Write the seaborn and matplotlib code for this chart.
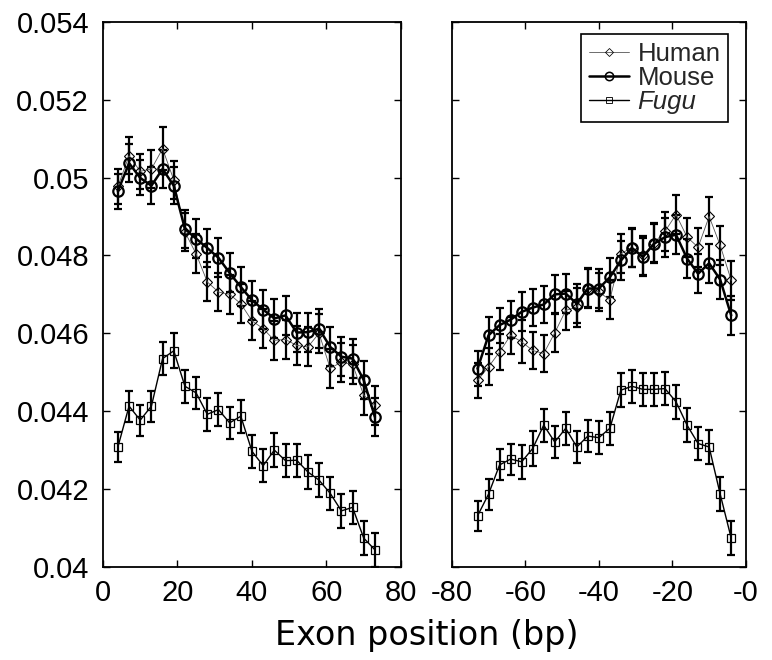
import numpy as np
import pandas as pd
import seaborn as sns
import matplotlib
matplotlib.use("Agg")
import matplotlib.pyplot as plt
from matplotlib.lines import Line2D

# Positions (bp) measured from the exon start and from the exon end
start_pos = [4, 7, 10, 13, 16, 19, 22, 25, 28, 31, 34, 37, 40, 43, 46, 49, 52, 55, 58, 61, 64, 67, 70, 73]
end_pos = [-73, -70, -67, -64, -61, -58, -55, -52, -49, -46, -43, -40, -37, -34, -31, -28, -25, -22, -19, -16, -13, -10, -7, -4]

# Frequencies near the exon start
human_start = [0.04977, 0.05056, 0.05016, 0.05022, 0.05074, 0.04994, 0.04860, 0.04804,
               0.04732, 0.04706, 0.04700, 0.04676, 0.04632, 0.04612, 0.04582, 0.04584,
               0.04569, 0.04565, 0.04600, 0.04510, 0.04526, 0.04520, 0.04441, 0.04415]
mouse_start = [0.04965, 0.05037, 0.04999, 0.04979, 0.05022, 0.04979, 0.04868, 0.04843,
               0.04819, 0.04794, 0.04755, 0.04719, 0.04685, 0.04661, 0.04638, 0.04646,
               0.04602, 0.04603, 0.04612, 0.04565, 0.04540, 0.04535, 0.04480, 0.04385]
fugu_start = [0.04308, 0.04413, 0.04377, 0.04413, 0.04535, 0.04555, 0.04464, 0.04447,
              0.04392, 0.04404, 0.04370, 0.04387, 0.04297, 0.04260, 0.04300, 0.04273,
              0.04274, 0.04244, 0.04223, 0.04189, 0.04144, 0.04153, 0.04074, 0.04044]

# Frequencies near the exon end
human_end = [0.04479, 0.04514, 0.04552, 0.04595, 0.04578, 0.04556, 0.04548, 0.04601,
             0.04659, 0.04667, 0.04717, 0.04706, 0.04686, 0.04804, 0.04821, 0.04800,
             0.04832, 0.04862, 0.04905, 0.04847, 0.04821, 0.04900, 0.04826, 0.04736]
mouse_end = [0.04509, 0.04595, 0.04621, 0.04635, 0.04655, 0.04666, 0.04674, 0.04700,
             0.04702, 0.04676, 0.04715, 0.04715, 0.04744, 0.04787, 0.04819, 0.04796,
             0.04830, 0.04847, 0.04853, 0.04792, 0.04753, 0.04780, 0.04738, 0.04646]
fugu_end = [0.04131, 0.04187, 0.04262, 0.04277, 0.04270, 0.04304, 0.04364, 0.04321,
            0.04356, 0.04308, 0.04336, 0.04332, 0.04356, 0.04454, 0.04464, 0.04456,
            0.04456, 0.04458, 0.04424, 0.04364, 0.04317, 0.04308, 0.04187, 0.04074]

# Standard errors
human_err = [0.00045, 0.00048, 0.00045, 0.00048, 0.00055, 0.00048, 0.00048, 0.00050,
             0.00050, 0.00050, 0.00050, 0.00050, 0.00050, 0.00050, 0.00050, 0.00050,
             0.00050, 0.00050, 0.00050, 0.00050, 0.00050, 0.00050, 0.00050, 0.00050]
mouse_err = [0.00045, 0.00048, 0.00045, 0.00048, 0.00050, 0.00048, 0.00048, 0.00050,
             0.00050, 0.00050, 0.00050, 0.00050, 0.00050, 0.00050, 0.00050, 0.00050,
             0.00050, 0.00050, 0.00050, 0.00050, 0.00050, 0.00050, 0.00050, 0.00050]
fugu_err = [0.00038, 0.00040, 0.00040, 0.00040, 0.00043, 0.00045, 0.00042, 0.00042,
            0.00042, 0.00042, 0.00042, 0.00042, 0.00042, 0.00043, 0.00043, 0.00043,
            0.00043, 0.00043, 0.00043, 0.00043, 0.00043, 0.00043, 0.00043, 0.00043]

species = ["Human", "Mouse", "Fugu"]
y_ticks = [0.04, 0.042, 0.044, 0.046, 0.048, 0.05, 0.052, 0.054]
y_tick_labels = ["0.04", "0.042", "0.044", "0.046", "0.048", "0.05", "0.052", "0.054"]
left_ticks = [0, 20, 40, 60, 80]
left_tick_labels = ["0", "20", "40", "60", "80"]
right_ticks = [-80, -60, -40, -20, 0]
right_tick_labels = ["-80", "-60", "-40", "-20", "-0"]

sns.set_style("ticks")
plt.rcParams["font.family"] = ["Liberation Sans", "DejaVu Sans"]

styles = {
    "Human": dict(marker="D", ms=5.2, lw=0.6, color="#555555", mew=0.8, z=3),
    "Mouse": dict(marker="o", ms=7.5, lw=1.8, color="black", mew=1.6, z=4),
    "Fugu": dict(marker="s", ms=5.5, lw=1.0, color="black", mew=0.9, z=3),
}


def build_frame(pos, h, m, f, he, me, fe):
    rows = []
    for name, vals, errs in zip(species, [h, m, f], [he, me, fe]):
        for p, v, e in zip(pos, vals, errs):
            rows.append({"pos": p, "freq": v, "err": e, "species": name})
    return pd.DataFrame(rows)


df_start = build_frame(start_pos, human_start, mouse_start, fugu_start, human_err, mouse_err, fugu_err)
df_end = build_frame(end_pos, human_end, mouse_end, fugu_end, human_err, mouse_err, fugu_err)

fig = plt.figure(figsize=(7.72, 6.6), dpi=100)
ax1 = fig.add_axes([0.1334, 0.141, 0.386, 0.826])
ax2 = fig.add_axes([0.5852, 0.141, 0.381, 0.826])


def draw(ax, df):
    for name in species:
        st = styles[name]
        sub = df[df["species"] == name]
        ax.errorbar(sub["pos"], sub["freq"], yerr=sub["err"], fmt="none",
                    ecolor="black", elinewidth=1.6, capsize=2.8, capthick=1.6,
                    zorder=2)
        sns.lineplot(data=sub, x="pos", y="freq", ax=ax, color=st["color"],
                     linewidth=st["lw"], marker=st["marker"], markersize=st["ms"],
                     markerfacecolor="none", markeredgecolor="black",
                     markeredgewidth=st["mew"], legend=False, zorder=st["z"],
                     errorbar=None)
    ax.set_ylim(0.04, 0.054)
    ax.set_yticks(y_ticks)
    ax.set_xlabel("")
    ax.set_ylabel("")
    ax.tick_params(direction="in", length=5, width=1.0, top=True, right=True,
                   labelsize=21, colors="black")
    ax.tick_params(axis="x", pad=9)
    ax.tick_params(axis="y", pad=10)
    for sp in ax.spines.values():
        sp.set_linewidth(1.3)
        sp.set_color("black")


draw(ax1, df_start)
draw(ax2, df_end)

ax1.set_xlim(0, 80)
ax1.set_xticks(left_ticks)
ax1.set_xticklabels(left_tick_labels)
ax1.set_yticklabels(y_tick_labels)

ax2.set_xlim(-80, 0)
ax2.set_xticks(right_ticks)
ax2.set_xticklabels(right_tick_labels)
ax2.set_yticklabels([])

# Shared x-axis title, sized to span about 303 px
xlab = fig.text(427 / 772, 1 - 635 / 660, "Exon position (bp)", ha="center",
                va="center", fontsize=20, family="DejaVu Sans", color="black")
fig.canvas.draw()
w = xlab.get_window_extent(fig.canvas.get_renderer()).width
xlab.set_fontsize(20 * 303 / w)

handles = []
for name in species:
    st = styles[name]
    handles.append(Line2D([], [], color=st["color"], lw=st["lw"], marker=st["marker"],
                          ms=st["ms"] * 0.8, mfc="none", mec="black", mew=st["mew"] * 0.7))
leg = ax2.legend(handles, ["Human", "Mouse", "Fugu"], loc="upper right",
                 bbox_to_anchor=(0.94, 0.977), fontsize=18.5, frameon=True,
                 fancybox=False, edgecolor="black", framealpha=1,
                 handlelength=1.55, handletextpad=0.35, labelspacing=0.0,
                 borderpad=0.3, borderaxespad=0)
leg.get_frame().set_linewidth(1.2)
leg.get_texts()[2].set_style("italic")

fig.savefig("out.png", dpi=100)
